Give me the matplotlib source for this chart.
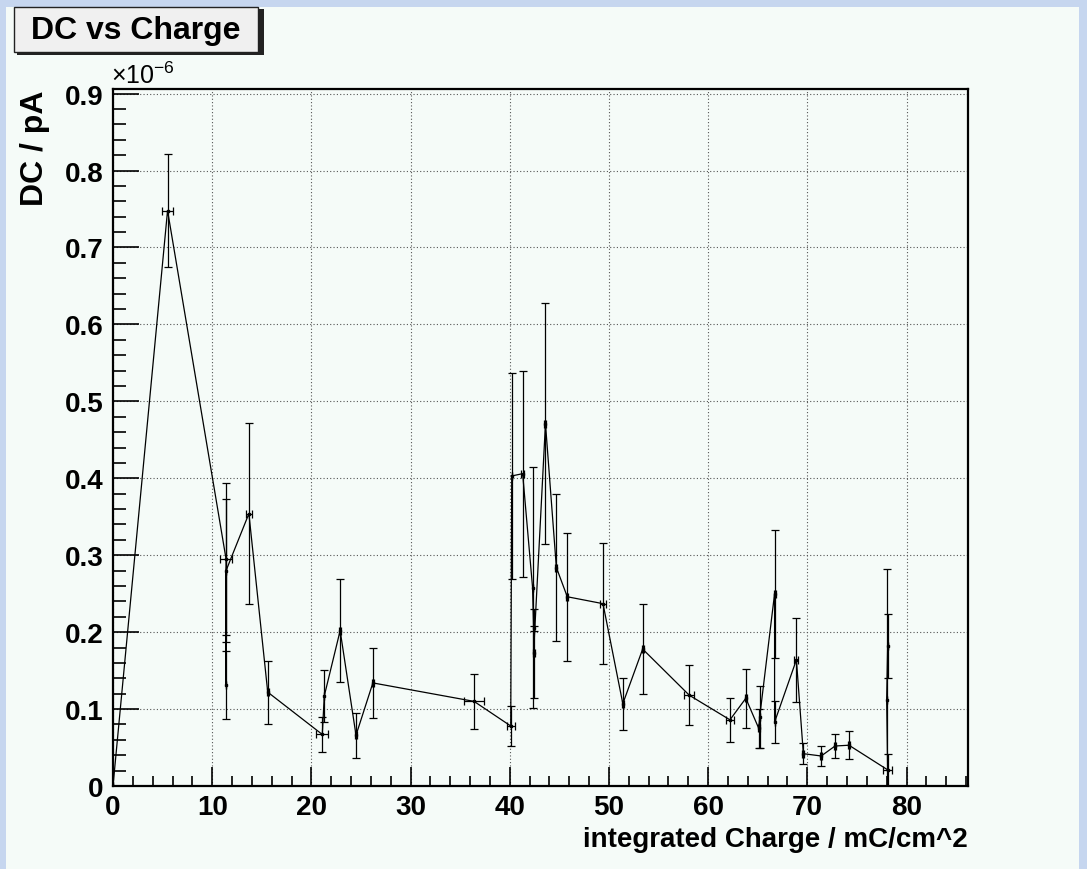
import matplotlib
matplotlib.use("Agg")
import matplotlib.pyplot as plt
from matplotlib.patches import Rectangle
from matplotlib.ticker import MultipleLocator, FuncFormatter

plt.rcParams['font.family'] = ['Liberation Sans', 'DejaVu Sans']
plt.rcParams['mathtext.fontset'] = 'custom'
plt.rcParams['mathtext.rm'] = 'Liberation Sans'
plt.rcParams['mathtext.it'] = 'Liberation Sans:italic'
plt.rcParams['mathtext.bf'] = 'Liberation Sans:bold'

# integrated charge (mC/cm^2) and dark current (x1e-6 pA)
charge = [0.0, 5.5, 11.4, 11.4, 11.4, 13.7, 15.6, 21.1, 21.3, 22.9, 24.5, 26.2,
          36.4, 40.1, 40.2, 41.3, 42.3, 42.4, 42.4, 43.6, 44.7, 45.8, 49.4,
          51.4, 53.4, 58.1, 62.2, 63.8, 65.1, 65.2, 66.7, 66.7, 68.9, 69.6,
          71.4, 72.8, 74.2, 78.1, 78.0, 78.1]
charge_err = [0, 0.58, 0.58, 0, 0, 0.28, 0.1, 0.6, 0, 0.1, 0.1, 0.1,
              1.0, 0.4, 0, 0.15, 0, 0, 0.1, 0.1, 0.1, 0.1, 0.3,
              0.1, 0.1, 0.5, 0.4, 0.1, 0.1, 0, 0.1, 0, 0.2, 0.1,
              0.1, 0.1, 0.1, 0.42, 0, 0]
dc = [0.0, 0.748, 0.295, 0.131, 0.280, 0.354, 0.122, 0.067, 0.117, 0.202, 0.066, 0.134,
      0.110, 0.078, 0.403, 0.406, 0.258, 0.205, 0.1725, 0.471, 0.284, 0.246, 0.237,
      0.107, 0.178, 0.118, 0.086, 0.114, 0.075, 0.090, 0.250, 0.083, 0.164, 0.042,
      0.039, 0.052, 0.053, 0.021, 0.112, 0.182]
dc_err = [0, 0.074, 0.099, 0.044, 0.093, 0.118, 0.041, 0.023, 0.034, 0.067, 0.029, 0.045,
          0.036, 0.026, 0.134, 0.134, 0.157, 0.003, 0.0575, 0.157, 0.095, 0.083, 0.079,
          0.034, 0.059, 0.039, 0.0285, 0.038, 0.025, 0.040, 0.083, 0.027, 0.055, 0.014,
          0.013, 0.016, 0.018, 0.0206, 0.170, 0.041]

W, H = 1087, 870
bg = '#f5fbf8'

fig = plt.figure(figsize=(W / 100, H / 100), dpi=100)
fig.patch.set_facecolor('#c6d6ef')
fig.add_artist(Rectangle((6 / W, 0), (1079 - 6) / W, (870 - 8) / H,
                         transform=fig.transFigure, facecolor=bg,
                         edgecolor='none', zorder=0))

ax = fig.add_axes([113 / W, 1 - 787 / H, (968 - 113) / W, (787 - 90) / H])
ax.set_facecolor(bg)

ax.errorbar(charge, dc, xerr=charge_err, yerr=dc_err, fmt='-', color='black',
            lw=0.9, elinewidth=0.9, capsize=3, capthick=0.9,
            marker='s', ms=1.6, zorder=3)

ax.set_xlim(0, 86.2)
ax.set_ylim(0, 0.906)

ax.xaxis.set_major_locator(MultipleLocator(10))
ax.xaxis.set_minor_locator(MultipleLocator(2))
ax.yaxis.set_major_locator(MultipleLocator(0.1))
ax.yaxis.set_minor_locator(MultipleLocator(0.02))
ax.yaxis.set_major_formatter(FuncFormatter(lambda v, p: '0' if abs(v) < 1e-9 else f'{v:.1f}'))
ax.xaxis.set_major_formatter(FuncFormatter(lambda v, p: f'{v:.0f}'))

ax.tick_params(axis='x', which='major', direction='in', length=14, width=1.2,
               pad=6, labelsize=20)
ax.tick_params(axis='x', which='minor', direction='in', length=7, width=1.2)
ax.tick_params(axis='y', which='major', direction='in', length=19, width=1.2,
               pad=7, labelsize=20)
ax.tick_params(axis='y', which='minor', direction='in', length=9.5, width=1.2)
for lab in ax.get_xticklabels() + ax.get_yticklabels():
    lab.set_fontweight('bold')

ax.grid(True, which='major', linestyle=(0, (1, 2)), color='#555555', lw=0.8)
for s in ax.spines.values():
    s.set_linewidth(1.6)

fig.text(968 / W, 1 - 840 / H, 'integrated Charge / mC/cm^2', ha='right',
         va='center', fontsize=20, fontweight='bold')
fig.text(35 / W, 1 - 90 / H, 'DC / pA', rotation=90, ha='center', va='top',
         fontsize=23, fontweight='bold')
fig.text(111 / W, 1 - 89 / H, r'$\times10^{-6}$', ha='left', va='bottom',
         fontsize=18)

# title box with shadow
fig.add_artist(Rectangle((17 / W, 1 - 56 / H), (261 - 14) / W, (56 - 10) / H,
                         transform=fig.transFigure, facecolor='#222222',
                         edgecolor='none', zorder=5))
fig.add_artist(Rectangle((14 / W, 1 - 53 / H), (258 - 14) / W, (53 - 8) / H,
                         transform=fig.transFigure, facecolor='#f0f0f0',
                         edgecolor='#222222', lw=1, zorder=6))
fig.text(136 / W, 1 - 31 / H, 'DC vs Charge', ha='center', va='center',
         fontsize=23, fontweight='bold', zorder=7)

fig.savefig('out.png', dpi=100, facecolor=fig.get_facecolor())
